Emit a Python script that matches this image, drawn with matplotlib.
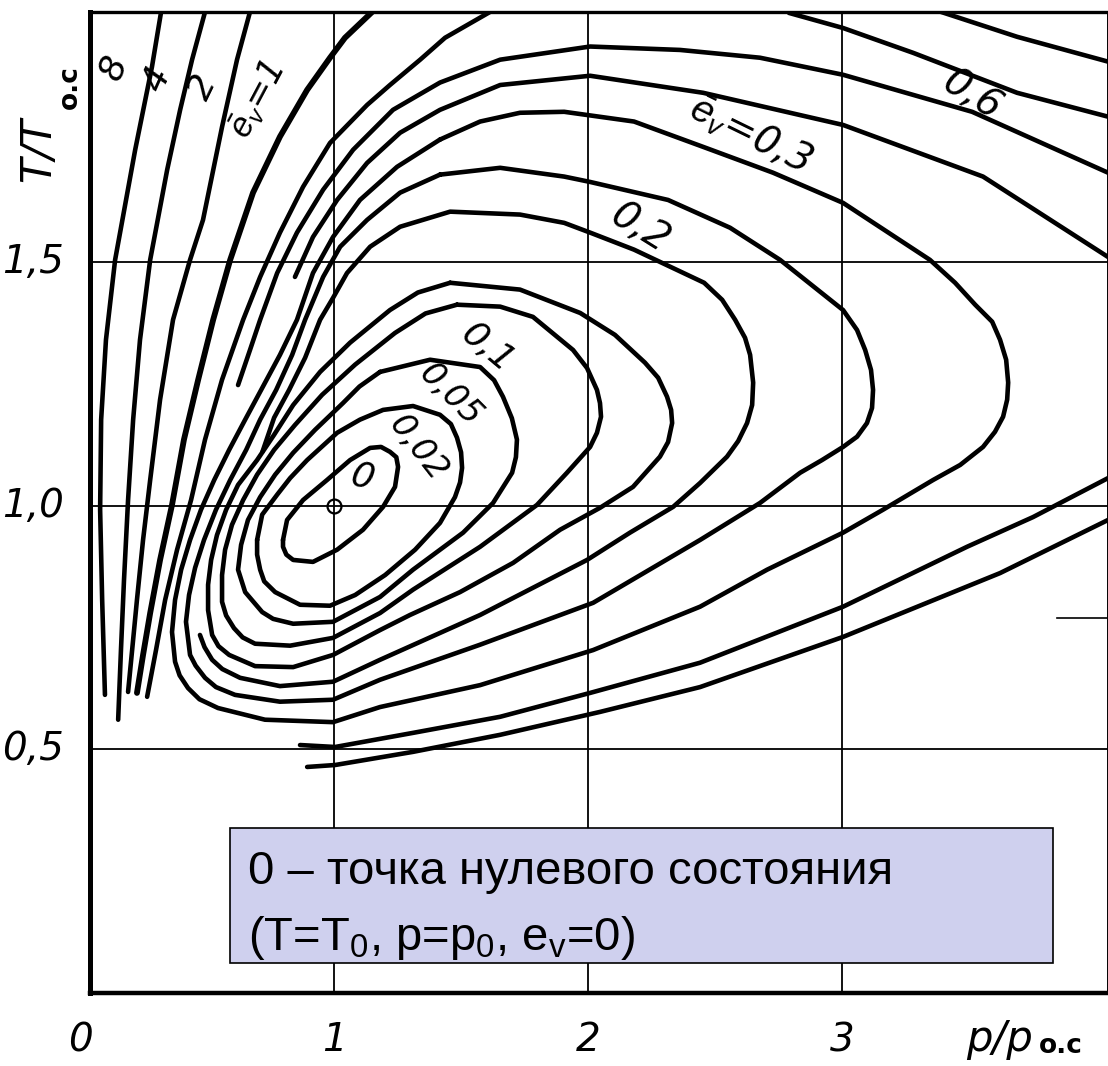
import matplotlib
matplotlib.use("Agg")
import matplotlib.pyplot as plt
from matplotlib.patches import Rectangle

plt.rcParams["mathtext.fontset"] = "custom"
plt.rcParams["mathtext.rm"] = "Liberation Sans"
plt.rcParams["mathtext.it"] = "Liberation Sans:italic"
plt.rcParams["mathtext.bf"] = "Liberation Sans:bold"

# Lines of constant reduced exergy e_v
# as (p/p0, T/T0) pairs.

# open lines that run from the top edge down to the lower left
EV_8 = [(0.319, 2.014), (0.283, 1.901), (0.217, 1.731), (0.138, 1.505), (0.102, 1.341),
        (0.083, 1.177), (0.079, 0.992), (0.087, 0.807), (0.098, 0.612)]
EV_4 = [(0.492, 2.014), (0.441, 1.916), (0.394, 1.813), (0.343, 1.690), (0.276, 1.505),
        (0.236, 1.341), (0.209, 1.177), (0.189, 1.012), (0.173, 0.848), (0.161, 0.704),
        (0.150, 0.561)]
EV_2 = [(0.669, 2.014), (0.618, 1.916), (0.559, 1.778), (0.484, 1.587), (0.433, 1.505),
        (0.366, 1.382), (0.315, 1.218), (0.276, 1.053), (0.248, 0.930), (0.224, 0.807),
        (0.205, 0.704), (0.189, 0.618)]
EV_1 = [(1.150, 2.014), (1.043, 1.961), (0.984, 1.920), (0.894, 1.854), (0.787, 1.758),
        (0.681, 1.643), (0.591, 1.505), (0.524, 1.382), (0.465, 1.259), (0.409, 1.136),
        (0.362, 1.002), (0.315, 0.889), (0.276, 0.780), (0.248, 0.694), (0.224, 0.616)]
# unlabelled line between 1 and 0.6
EV_X1 = [(1.614, 2.014), (1.437, 1.961), (1.339, 1.916), (1.220, 1.864), (1.130, 1.823),
         (0.984, 1.745), (0.878, 1.655), (0.787, 1.561), (0.709, 1.470), (0.642, 1.382),
         (0.559, 1.259), (0.492, 1.136), (0.437, 1.012), (0.382, 0.910), (0.335, 0.807),
         (0.299, 0.704), (0.264, 0.608)]

# upper-right lines that come in through the top edge
EV_TOP1 = [(3.390, 2.014), (3.689, 1.963), (4.047, 1.912)]
EV_TOP2 = [(2.791, 2.012), (3.004, 1.981), (3.280, 1.930), (3.689, 1.848), (4.047, 1.799)]

# 0.6 and the unlabelled level below it: upper arcs with a free end on the left
EV_06_UP = [(4.047, 1.684), (3.512, 1.809), (3.004, 1.885), (2.677, 1.920), (2.362, 1.936),
            (2.008, 1.943), (1.654, 1.916), (1.417, 1.869), (1.232, 1.813), (1.075, 1.731),
            (0.957, 1.649), (0.854, 1.561), (0.776, 1.478), (0.709, 1.382), (0.669, 1.320),
            (0.622, 1.248)]
EV_06_LOW = [(0.894, 0.464), (1.004, 0.468), (1.311, 0.495), (1.654, 0.530), (2.047, 0.577),
             (2.441, 0.628), (3.004, 0.731), (3.622, 0.862), (4.047, 0.971)]
EV_X2_UP = [(4.047, 1.511), (3.555, 1.676), (3.004, 1.782), (2.453, 1.848), (2.008, 1.883),
            (1.654, 1.864), (1.417, 1.813), (1.260, 1.766), (1.130, 1.704), (1.012, 1.628),
            (0.917, 1.552), (0.846, 1.470)]
EV_X2_LOW = [(0.866, 0.509), (1.004, 0.505), (1.311, 0.534), (1.654, 0.567), (2.008, 0.616),
             (2.441, 0.678), (3.004, 0.793), (3.492, 0.916), (3.752, 0.977), (4.047, 1.057)]

# closed loops
EV_03 = [(1.417, 1.752), (1.575, 1.789), (1.732, 1.807), (1.906, 1.809), (2.181, 1.789),
         (2.453, 1.737), (2.728, 1.684), (3.004, 1.622), (3.346, 1.505), (3.445, 1.458),
         (3.524, 1.413), (3.591, 1.378), (3.622, 1.341), (3.646, 1.300), (3.654, 1.253),
         (3.650, 1.218), (3.634, 1.183), (3.602, 1.152), (3.555, 1.121), (3.465, 1.084),
         (3.358, 1.053), (3.161, 0.992), (3.004, 0.945), (2.705, 0.869), (2.441, 0.793),
         (2.020, 0.704), (1.575, 0.632), (1.181, 0.587), (0.996, 0.556), (0.728, 0.561),
         (0.543, 0.585), (0.470, 0.603), (0.425, 0.626), (0.392, 0.652), (0.374, 0.680),
         (0.362, 0.741), (0.374, 0.807), (0.398, 0.869), (0.433, 0.930), (0.476, 0.992),
         (0.528, 1.053), (0.587, 1.115), (0.650, 1.177), (0.717, 1.242), (0.787, 1.310),
         (0.854, 1.382), (0.917, 1.478), (0.996, 1.552), (1.102, 1.628), (1.248, 1.696)]
EV_025 = [(1.417, 1.680), (1.654, 1.694), (1.906, 1.676), (2.008, 1.665), (2.315, 1.628),
          (2.559, 1.571), (2.756, 1.505), (3.004, 1.402), (3.059, 1.361), (3.091, 1.320),
          (3.114, 1.279), (3.122, 1.238), (3.118, 1.201), (3.098, 1.170), (3.059, 1.142),
          (3.004, 1.121), (2.921, 1.094), (2.835, 1.068), (2.677, 1.006), (2.441, 0.930),
          (2.020, 0.801), (1.575, 0.715), (1.181, 0.643), (0.996, 0.602), (0.787, 0.598),
          (0.610, 0.612), (0.535, 0.628), (0.492, 0.647), (0.455, 0.672), (0.433, 0.694),
          (0.417, 0.762), (0.429, 0.817), (0.453, 0.873), (0.488, 0.930), (0.535, 0.992),
          (0.591, 1.053), (0.654, 1.115), (0.709, 1.177), (0.772, 1.238), (0.835, 1.310),
          (0.886, 1.382), (0.957, 1.470), (1.024, 1.532), (1.130, 1.587), (1.260, 1.643)]
# 0.2 has a gap on its left side in the original drawing
EV_02 = [(0.718, 1.111), (0.764, 1.181), (0.823, 1.238), (0.886, 1.304), (0.945, 1.382),
         (0.996, 1.427), (1.051, 1.478), (1.142, 1.532), (1.260, 1.573), (1.457, 1.604),
         (1.732, 1.598), (1.906, 1.581), (2.008, 1.561), (2.181, 1.526), (2.457, 1.458),
         (2.528, 1.423), (2.579, 1.382), (2.618, 1.345), (2.638, 1.310), (2.650, 1.253),
         (2.646, 1.207), (2.626, 1.170), (2.591, 1.133), (2.547, 1.101), (2.441, 1.047),
         (2.335, 0.998), (2.165, 0.945), (1.996, 0.889), (1.575, 0.776), (1.181, 0.684),
         (0.996, 0.639), (0.787, 0.630), (0.630, 0.647), (0.560, 0.665), (0.520, 0.684),
         (0.490, 0.710), (0.472, 0.735)]
EV_X3 = [(1.457, 1.458), (1.732, 1.444), (1.969, 1.396), (2.106, 1.351), (2.224, 1.294),
         (2.276, 1.263), (2.311, 1.224), (2.327, 1.197), (2.331, 1.170), (2.315, 1.131),
         (2.283, 1.101), (2.177, 1.039), (2.047, 0.996), (1.890, 0.951), (1.705, 0.883),
         (1.496, 0.823), (1.299, 0.776), (1.181, 0.745), (0.996, 0.694), (0.839, 0.669),
         (0.689, 0.671), (0.587, 0.694), (0.545, 0.712), (0.520, 0.735), (0.504, 0.786),
         (0.504, 0.838), (0.516, 0.889), (0.539, 0.940), (0.575, 0.992), (0.622, 1.043),
         (0.697, 1.094), (0.764, 1.146), (0.839, 1.207), (0.945, 1.275), (1.063, 1.335),
         (1.220, 1.402), (1.330, 1.438)]
EV_X4 = [(1.484, 1.413), (1.654, 1.409), (1.783, 1.388), (1.941, 1.320), (1.996, 1.283),
         (2.035, 1.238), (2.047, 1.211), (2.051, 1.183), (2.035, 1.150), (2.008, 1.121),
         (1.917, 1.068), (1.799, 1.002), (1.575, 0.916), (1.311, 0.828), (1.181, 0.780),
         (0.996, 0.729), (0.827, 0.713), (0.689, 0.717), (0.640, 0.730), (0.606, 0.749),
         (0.575, 0.775), (0.559, 0.803), (0.559, 0.858), (0.571, 0.910), (0.598, 0.961),
         (0.642, 1.012), (0.697, 1.064), (0.764, 1.115), (0.846, 1.166), (0.953, 1.228),
         (1.083, 1.290), (1.240, 1.355), (1.360, 1.395)]
EV_01 = [(1.181, 1.275), (1.378, 1.300), (1.575, 1.285), (1.630, 1.258), (1.665, 1.224),
         (1.700, 1.180), (1.720, 1.136), (1.716, 1.100), (1.701, 1.068), (1.626, 1.006),
         (1.508, 0.945), (1.311, 0.869), (1.181, 0.813), (0.996, 0.762), (0.839, 0.758),
         (0.760, 0.768), (0.717, 0.782), (0.650, 0.823), (0.622, 0.869), (0.634, 0.920),
         (0.661, 0.971), (0.709, 1.018), (0.768, 1.064), (0.839, 1.109), (0.925, 1.156),
         (1.035, 1.211), (1.100, 1.245)]
EV_005 = [(0.697, 0.930), (0.717, 0.982), (0.776, 1.023), (0.827, 1.057), (0.894, 1.094),
          (1.012, 1.150), (1.102, 1.177), (1.193, 1.197), (1.311, 1.205), (1.417, 1.187),
          (1.460, 1.168), (1.484, 1.140), (1.500, 1.110), (1.504, 1.078), (1.496, 1.048),
          (1.476, 1.018), (1.417, 0.965), (1.319, 0.910), (1.201, 0.858), (1.083, 0.817),
          (0.984, 0.795), (0.866, 0.797), (0.768, 0.823), (0.725, 0.845), (0.709, 0.869),
          (0.697, 0.900)]
EV_002 = [(0.799, 0.930), (0.815, 0.971), (0.878, 1.012), (0.972, 1.053), (1.063, 1.094),
          (1.142, 1.119), (1.185, 1.121), (1.220, 1.111), (1.245, 1.100), (1.252, 1.080),
          (1.240, 1.039), (1.193, 0.998), (1.114, 0.951), (1.012, 0.910), (0.917, 0.885),
          (0.839, 0.889), (0.812, 0.900), (0.799, 0.916)]

ZERO_STATE = (1.0, 1.0)
RIGHT_MARK = [(3.846, 0.770), (4.047, 0.770)]

X_TICKS = [0, 1, 2, 3]
Y_TICKS = [0.5, 1.0, 1.5]
Y_TICK_LABELS = ["0,5", "1,0", "1,5"]

# level labels: text, p/p0, T/T0, rotation, size
LEVEL_LABELS = [
    ("8", 0.130, 1.901, 68, 26),
    ("4", 0.303, 1.875, 66, 26),
    ("2", 0.484, 1.860, 64, 26),
    (r"$\bar{e}_v$=1", 0.697, 1.834, 62, 25),
    (r"$\bar{e}_v$=0,3", 2.638, 1.762, -26, 28),
    ("0,6", 3.512, 1.844, -32, 28),
    ("0,2", 2.205, 1.571, -32, 28),
    ("0,1", 1.602, 1.324, -40, 26),
    ("0,05", 1.457, 1.228, -45, 24),
    ("0,02", 1.331, 1.119, -52, 24),
    ("0", 1.110, 1.060, -15, 26),
]

NOTE_1 = "0 – точка нулевого состояния"
NOTE_2 = r"(T=T$_0$, p=p$_0$, e$_\mathrm{v}$=0)"

NARROW = ["Liberation Sans Narrow", "DejaVu Sans"]

fig = plt.figure(figsize=(11.08, 10.66), dpi=100)
ax = fig.add_axes([0.0812, 0.0685, 0.9188, 0.9203])
ax.set_xlim(0.039, 4.047)
ax.set_ylim(0.0, 2.014)
ax.set_xticks([])
ax.set_yticks([])

for s, w in (("left", 3.6), ("bottom", 3.2), ("top", 2.4), ("right", 1.4)):
    ax.spines[s].set_linewidth(w)

for x in X_TICKS[1:]:
    ax.axvline(x, color="black", lw=1.3, zorder=1)
for y in Y_TICKS:
    ax.axhline(y, color="black", lw=1.3, zorder=1)

line_kw = dict(color="black", lw=3.3, solid_capstyle="round", solid_joinstyle="round", zorder=2)

open_lines = [EV_8, EV_4, EV_2, EV_X1, EV_TOP1, EV_TOP2, EV_06_UP, EV_06_LOW,
              EV_X2_UP, EV_X2_LOW, EV_02]
for pts in open_lines:
    ax.plot([p for p, t in pts], [t for p, t in pts], **line_kw)
ax.plot([p for p, t in EV_1], [t for p, t in EV_1], **{**line_kw, "lw": 4.2})

for pts in [EV_03, EV_025, EV_X3, EV_X4, EV_01, EV_005, EV_002]:
    closed = pts + [pts[0]]
    ax.plot([p for p, t in closed], [t for p, t in closed], **line_kw)

ax.plot([p for p, t in RIGHT_MARK], [t for p, t in RIGHT_MARK], color="black", lw=1.2)
ax.plot(*ZERO_STATE, marker="o", ms=10, mfc="none", mec="black", mew=1.6, zorder=3)

for text, x, y, rot, size in LEVEL_LABELS:
    ax.text(x, y, text, rotation=rot, fontsize=size, style="italic", family=NARROW,
            ha="center", va="center", rotation_mode="anchor", zorder=4)

# axis numbers in the drafting style of the original
for x in X_TICKS:
    ax.text(x, -0.048, str(x), transform=ax.get_xaxis_transform(), fontsize=28,
            style="italic", family=NARROW, ha="center", va="center", clip_on=False)
for y, lab in zip(Y_TICKS, Y_TICK_LABELS):
    ax.text(-0.026, y, lab, transform=ax.get_yaxis_transform(), fontsize=28,
            style="italic", family=NARROW, ha="right", va="center", clip_on=False)

ax.text(3.62, -0.047, "p/p", transform=ax.get_xaxis_transform(), fontsize=30,
        style="italic", family=NARROW, ha="center", va="center", clip_on=False)
ax.text(3.86, -0.054, "o.c", transform=ax.get_xaxis_transform(), fontsize=19,
        weight="bold", family=NARROW, ha="center", va="center", clip_on=False)
ax.text(-0.051, 1.731, "T/T", transform=ax.get_yaxis_transform(), fontsize=30,
        style="italic", family=NARROW, rotation=90, ha="center", va="center", clip_on=False)
ax.text(-0.020, 1.860, "o.c", transform=ax.get_yaxis_transform(), fontsize=19,
        weight="bold", family=NARROW, rotation=90, ha="center", va="center", clip_on=False)

# note box
ax.add_patch(Rectangle((0.1375, 0.0306), 0.8085, 0.1376, transform=ax.transAxes,
                       facecolor="#CFD0EE", edgecolor="black", lw=1.2, zorder=5))
ax.text(0.155, 0.123, NOTE_1, transform=ax.transAxes, fontsize=34,
        family="Liberation Sans", ha="left", va="center", zorder=6)
ax.text(0.155, 0.056, NOTE_2, transform=ax.transAxes, fontsize=34,
        family="Liberation Sans", ha="left", va="center", zorder=6)

fig.savefig("out.png", dpi=100)
